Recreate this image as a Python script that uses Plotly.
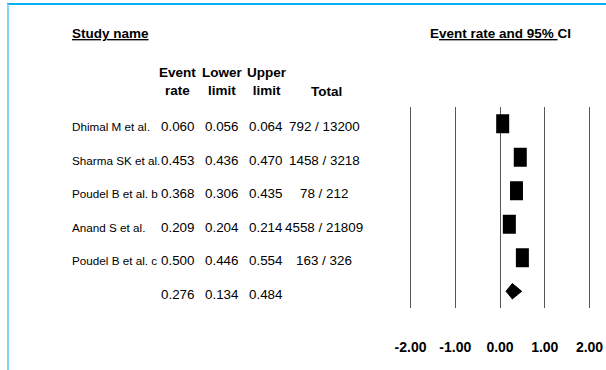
import plotly.graph_objects as go

# ---- data ----
studies = ["Dhimal M et al.", "Sharma SK et al.", "Poudel B et al. b", "Anand S et al.", "Poudel B et al. c", ""]
event_rate = [0.060, 0.453, 0.368, 0.209, 0.500, 0.276]
lower = [0.056, 0.436, 0.306, 0.204, 0.446, 0.134]
upper = [0.064, 0.470, 0.435, 0.214, 0.554, 0.484]
totals = ["792 / 13200", "1458 / 3218", "78 / 212", "4558 / 21809", "163 / 326", ""]
tick_vals = [-2, -1, 0, 1, 2]
tick_text = ["-2.00", "-1.00", "0.00", "1.00", "2.00"]

W, H = 606, 370
FONT = "Liberation Sans, Arial"

def px(x):
    return x / W

def py(y):
    return 1 - y / H

fig = go.Figure()

n = len(studies)
rows = list(range(n))

# individual study markers (rectangles, pixel-sized, anchored at data values)
for i in range(n - 1):
    fig.add_shape(type="rect", xref="x", yref="y",
                  xsizemode="pixel", xanchor=event_rate[i], x0=-6.5, x1=6.5,
                  ysizemode="pixel", yanchor=rows[i], y0=-9.5, y1=9.5,
                  fillcolor="black", line=dict(width=0))

# summary diamond
s = n - 1
fig.add_trace(go.Scatter(
    x=[lower[s], event_rate[s], upper[s], event_rate[s], lower[s]],
    y=[rows[s], rows[s] - 0.23, rows[s], rows[s] + 0.23, rows[s]],
    mode="lines", fill="toself", fillcolor="black",
    line=dict(color="black", width=1), hoverinfo="skip", showlegend=False))

# table text
col_x = {"rate": 178, "lower": 222.5, "upper": 266, "total": 324}
nf = dict(family=FONT, size=11.7, color="black")
tf = dict(family=FONT, size=13.4, color="black")
for i in range(n):
    if studies[i]:
        fig.add_annotation(x=px(70), xref="paper", y=rows[i], yref="y", text=studies[i],
                           xanchor="left", yanchor="middle", showarrow=False, font=nf, yshift=-3)
    fig.add_annotation(x=px(col_x["rate"]), xref="paper", y=rows[i], yref="y",
                       text=f"{event_rate[i]:.3f}", xanchor="center", showarrow=False, font=tf, yshift=-3)
    fig.add_annotation(x=px(col_x["lower"]), xref="paper", y=rows[i], yref="y",
                       text=f"{lower[i]:.3f}", xanchor="center", showarrow=False, font=tf, yshift=-3)
    fig.add_annotation(x=px(col_x["upper"]), xref="paper", y=rows[i], yref="y",
                       text=f"{upper[i]:.3f}", xanchor="center", showarrow=False, font=tf, yshift=-3)
    if totals[i]:
        fig.add_annotation(x=px(col_x["total"]), xref="paper", y=rows[i], yref="y",
                           text=totals[i], xanchor="center", showarrow=False, font=tf, yshift=-3)

hf = dict(family=FONT, size=13.5, color="black")
fig.add_annotation(x=px(70), y=py(34), xref="paper", yref="paper", text="<b><u>Study name</u></b>",
                   xanchor="left", yanchor="middle", showarrow=False, font=hf)
fig.add_annotation(x=px(500), y=py(34), xref="paper", yref="paper",
                   text="<b>E<u>vent rate and 95% </u>CI</b>",
                   xanchor="center", yanchor="middle", showarrow=False, font=hf)
for label, cx in [("Event<br>rate", 177), ("Lower<br>limit", 222), ("Upper<br>limit", 267)]:
    fig.add_annotation(x=px(cx), y=py(82), xref="paper", yref="paper", text=f"<b>{label}</b>",
                       xanchor="center", yanchor="middle", showarrow=False, font=hf)
fig.add_annotation(x=px(326), y=py(91), xref="paper", yref="paper", text="<b>Total</b>",
                   xanchor="center", yanchor="middle", showarrow=False, font=hf)

# frame lines
fig.add_shape(type="line", xref="paper", yref="paper", x0=px(7), x1=1, y0=py(4), y1=py(4),
              line=dict(color="#00B0F0", width=2))
fig.add_shape(type="line", xref="paper", yref="paper", x0=px(8), x1=px(8), y0=py(4), y1=0,
              line=dict(color="#7FD4F6", width=2))

scale = 44.75
fig.update_layout(
    width=W, height=H, margin=dict(l=0, r=0, t=0, b=0),
    paper_bgcolor="white", plot_bgcolor="white", showlegend=False,
    xaxis=dict(domain=[0, 1], range=[-500 / scale, (W - 500) / scale],
               tickvals=tick_vals, ticktext=[f"<b>{t}</b>" for t in tick_text],
               showgrid=True, gridcolor="#555555", gridwidth=1,
               zeroline=False, showline=False, ticks="", ticklabelstandoff=29,
               tickfont=dict(family=FONT, size=14, color="black"), fixedrange=True),
    yaxis=dict(domain=[py(308), py(107)], range=[n - 0.5, -0.5], visible=False, fixedrange=True),
)

fig.write_html("out.html")
